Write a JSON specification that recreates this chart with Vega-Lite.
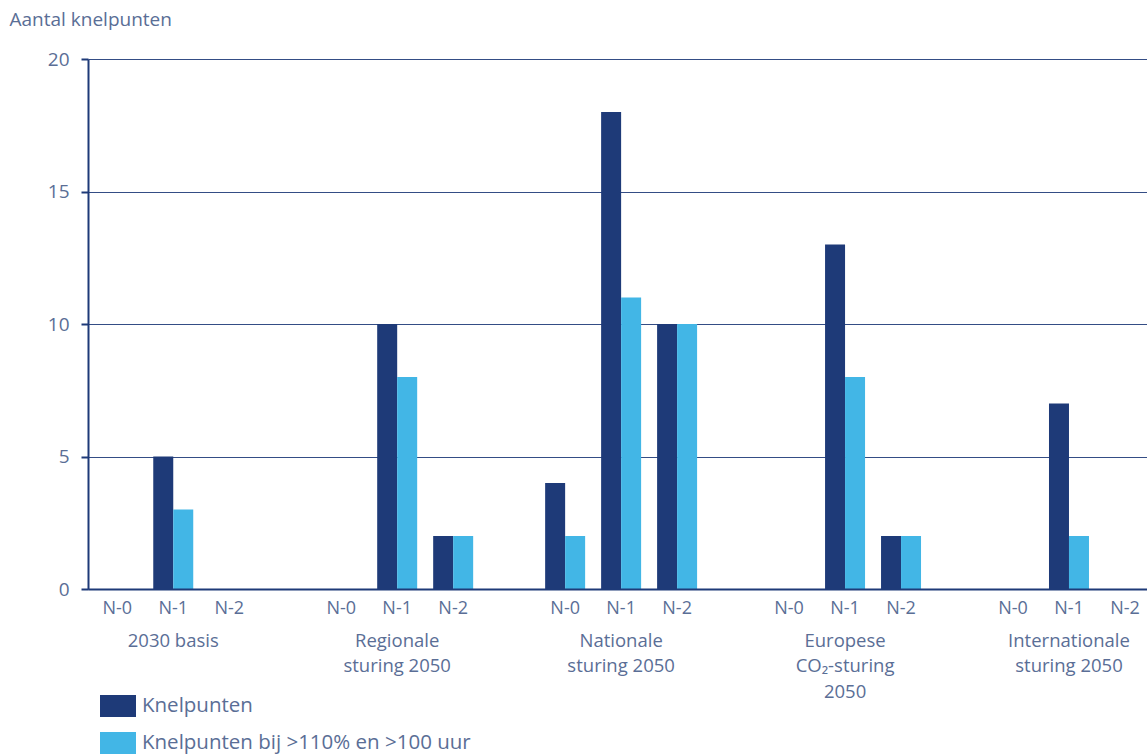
{
  "$schema": "https://vega.github.io/schema/vega-lite/v6.json",
  "width": 1059,
  "height": 530,
  "autosize": {"type": "none"},
  "padding": {"left": 88, "top": 59, "right": 0, "bottom": 167},
  "config": {
    "font": "Open Sans",
    "view": {"stroke": null},
    "legend": {
      "orient": "none",
      "legendX": 12,
      "legendY": 629,
      "padding": 0,
      "symbolType": "M-1,-0.61H1V0.61H-1Z",
      "symbolSize": 1296,
      "symbolStrokeWidth": 0,
      "symbolOpacity": 1,
      "labelFontSize": 20.5,
      "labelColor": "#5a6e96",
      "labelOffset": 6,
      "labelLimit": 600,
      "rowPadding": 8
    }
  },
  "data": {
    "values": [
      {"key": "2030 basis|N-0", "serie": "Knelpunten", "aantal": 0},
      {"key": "2030 basis|N-0", "serie": "Knelpunten bij >110% en >100 uur", "aantal": 0},
      {"key": "2030 basis|N-1", "serie": "Knelpunten", "aantal": 5},
      {"key": "2030 basis|N-1", "serie": "Knelpunten bij >110% en >100 uur", "aantal": 3},
      {"key": "2030 basis|N-2", "serie": "Knelpunten", "aantal": 0},
      {"key": "2030 basis|N-2", "serie": "Knelpunten bij >110% en >100 uur", "aantal": 0},
      {"key": "Regionale\nsturing 2050|N-0", "serie": "Knelpunten", "aantal": 0},
      {"key": "Regionale\nsturing 2050|N-0", "serie": "Knelpunten bij >110% en >100 uur", "aantal": 0},
      {"key": "Regionale\nsturing 2050|N-1", "serie": "Knelpunten", "aantal": 10},
      {"key": "Regionale\nsturing 2050|N-1", "serie": "Knelpunten bij >110% en >100 uur", "aantal": 8},
      {"key": "Regionale\nsturing 2050|N-2", "serie": "Knelpunten", "aantal": 2},
      {"key": "Regionale\nsturing 2050|N-2", "serie": "Knelpunten bij >110% en >100 uur", "aantal": 2},
      {"key": "Nationale\nsturing 2050|N-0", "serie": "Knelpunten", "aantal": 4},
      {"key": "Nationale\nsturing 2050|N-0", "serie": "Knelpunten bij >110% en >100 uur", "aantal": 2},
      {"key": "Nationale\nsturing 2050|N-1", "serie": "Knelpunten", "aantal": 18},
      {"key": "Nationale\nsturing 2050|N-1", "serie": "Knelpunten bij >110% en >100 uur", "aantal": 11},
      {"key": "Nationale\nsturing 2050|N-2", "serie": "Knelpunten", "aantal": 10},
      {"key": "Nationale\nsturing 2050|N-2", "serie": "Knelpunten bij >110% en >100 uur", "aantal": 10},
      {"key": "Europese\nCO₂-sturing\n2050|N-0", "serie": "Knelpunten", "aantal": 0},
      {"key": "Europese\nCO₂-sturing\n2050|N-0", "serie": "Knelpunten bij >110% en >100 uur", "aantal": 0},
      {"key": "Europese\nCO₂-sturing\n2050|N-1", "serie": "Knelpunten", "aantal": 13},
      {"key": "Europese\nCO₂-sturing\n2050|N-1", "serie": "Knelpunten bij >110% en >100 uur", "aantal": 8},
      {"key": "Europese\nCO₂-sturing\n2050|N-2", "serie": "Knelpunten", "aantal": 2},
      {"key": "Europese\nCO₂-sturing\n2050|N-2", "serie": "Knelpunten bij >110% en >100 uur", "aantal": 2},
      {"key": "Internationale\nsturing 2050|N-0", "serie": "Knelpunten", "aantal": 0},
      {"key": "Internationale\nsturing 2050|N-0", "serie": "Knelpunten bij >110% en >100 uur", "aantal": 0},
      {"key": "Internationale\nsturing 2050|N-1", "serie": "Knelpunten", "aantal": 7},
      {"key": "Internationale\nsturing 2050|N-1", "serie": "Knelpunten bij >110% en >100 uur", "aantal": 2},
      {"key": "Internationale\nsturing 2050|N-2", "serie": "Knelpunten", "aantal": 0},
      {"key": "Internationale\nsturing 2050|N-2", "serie": "Knelpunten bij >110% en >100 uur", "aantal": 0}
    ]
  },
  "encoding": {
    "y": {
      "field": "aantal",
      "type": "quantitative",
      "scale": {"domain": [0, 20], "nice": false},
      "axis": {
        "values": [0, 5, 10, 15, 20],
        "title": "Aantal knelpunten",
        "titleAngle": 0,
        "titleAlign": "left",
        "titleBaseline": "alphabetic",
        "titleX": -79,
        "titleY": -34,
        "titleFontSize": 19,
        "titleFontWeight": "normal",
        "titleColor": "#5a6e96",
        "labelFontSize": 19,
        "labelColor": "#5a6e96",
        "labelPadding": 12,
        "domainColor": "#1e3a78",
        "domainWidth": 2,
        "tickColor": "#1e3a78",
        "tickWidth": 2,
        "tickSize": 7,
        "grid": true,
        "gridColor": "#1e3a78",
        "gridWidth": 1,
        "gridOpacity": 0.9
      }
    },
    "xOffset": {
      "field": "serie",
      "type": "nominal",
      "scale": {
        "domain": ["Knelpunten", "Knelpunten bij >110% en >100 uur"],
        "paddingInner": 0,
        "paddingOuter": 0
      }
    },
    "color": {
      "field": "serie",
      "type": "nominal",
      "title": null,
      "scale": {
        "domain": ["Knelpunten", "Knelpunten bij >110% en >100 uur"],
        "range": ["#1e3a78", "#42b6e6"]
      }
    }
  },
  "layer": [
    {
      "transform": [{"filter": "datum.serie === 'Knelpunten'"}],
      "mark": {"type": "bar"},
      "encoding": {
        "x": {
          "field": "key",
          "type": "nominal",
          "title": null,
          "scale": {
            "domain": [
              "2030 basis|N-0", "2030 basis|N-1", "2030 basis|N-2", "gap1|",
              "Regionale\nsturing 2050|N-0", "Regionale\nsturing 2050|N-1", "Regionale\nsturing 2050|N-2", "gap2|",
              "Nationale\nsturing 2050|N-0", "Nationale\nsturing 2050|N-1", "Nationale\nsturing 2050|N-2", "gap3|",
              "Europese\nCO₂-sturing\n2050|N-0", "Europese\nCO₂-sturing\n2050|N-1", "Europese\nCO₂-sturing\n2050|N-2", "gap4|",
              "Internationale\nsturing 2050|N-0", "Internationale\nsturing 2050|N-1", "Internationale\nsturing 2050|N-2"
            ],
            "paddingInner": 0.2857,
            "paddingOuter": 0.101,
            "align": 0.82
          },
          "axis": {
            "orient": "bottom",
            "labelExpr": "split(datum.value, '|')[1]",
            "labelAngle": 0,
            "labelFontSize": 18,
            "labelColor": "#5a6e96",
            "labelPadding": 10,
            "labelOverlap": false,
            "labelBaseline": "top",
            "ticks": false,
            "grid": false,
            "domain": true,
            "domainColor": "#1e3a78",
            "domainWidth": 2,
            "zindex": 1
          }
        }
      }
    },
    {
      "transform": [{"filter": "datum.serie !== 'Knelpunten'"}],
      "mark": {"type": "bar"},
      "encoding": {
        "x": {
          "field": "key",
          "type": "nominal",
          "title": null,
          "scale": {
            "domain": [
              "2030 basis|N-0", "2030 basis|N-1", "2030 basis|N-2", "gap1|",
              "Regionale\nsturing 2050|N-0", "Regionale\nsturing 2050|N-1", "Regionale\nsturing 2050|N-2", "gap2|",
              "Nationale\nsturing 2050|N-0", "Nationale\nsturing 2050|N-1", "Nationale\nsturing 2050|N-2", "gap3|",
              "Europese\nCO₂-sturing\n2050|N-0", "Europese\nCO₂-sturing\n2050|N-1", "Europese\nCO₂-sturing\n2050|N-2", "gap4|",
              "Internationale\nsturing 2050|N-0", "Internationale\nsturing 2050|N-1", "Internationale\nsturing 2050|N-2"
            ],
            "paddingInner": 0.2857,
            "paddingOuter": 0.101,
            "align": 0.82
          },
          "axis": {
            "orient": "bottom",
            "labelExpr": "split(datum.value, '|')[1] == 'N-1' ? split(split(datum.value, '|')[0], '\\n') : ''",
            "labelAngle": 0,
            "labelFontSize": 18.5,
            "labelLineHeight": 25.5,
            "labelColor": "#5a6e96",
            "labelPadding": 42,
            "labelOverlap": false,
            "labelBaseline": "top",
            "labelLimit": 300,
            "ticks": false,
            "grid": false,
            "domain": false
          }
        }
      }
    }
  ],
  "resolve": {"axis": {"x": "independent"}}
}
